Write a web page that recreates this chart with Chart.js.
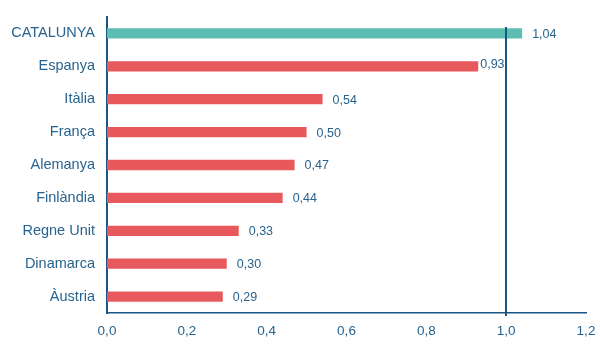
<!DOCTYPE html>
<html>
<head>
<meta charset="utf-8">
<script src="https://cdn.jsdelivr.net/npm/chart.js@4"></script>
<style>
  html, body { margin: 0; padding: 0; background: #fff; }
  #wrap { width: 600px; height: 349px; }
</style>
</head>
<body>
<div id="wrap"><canvas id="barChart" width="600" height="349"></canvas></div>
<script>
const countries = ["CATALUNYA", "Espanya", "Itàlia", "França", "Alemanya", "Finlàndia", "Regne Unit", "Dinamarca", "Àustria"];
const values = [1.04, 0.93, 0.54, 0.50, 0.47, 0.44, 0.33, 0.30, 0.29];
const xTicks = [0, 0.2, 0.4, 0.6, 0.8, 1.0, 1.2];
const referenceValue = 1.0;

const textColor = "#28638F";
const axisColor = "#1B5583";
const fontFamily = "'Liberation Sans', Arial, sans-serif";

// vertical marker at the reference value
const refLine = {
  id: "refLine",
  afterDatasetsDraw(chart) {
    const { ctx, chartArea, scales } = chart;
    const x = Math.round(scales.x.getPixelForValue(referenceValue));
    ctx.save();
    ctx.strokeStyle = axisColor;
    ctx.lineWidth = 2;
    ctx.beginPath();
    ctx.moveTo(x, chartArea.top + 10);
    ctx.lineTo(x, chartArea.bottom + 3);
    ctx.stroke();
    ctx.restore();
  }
};

// value labels to the right of each bar
const valueLabels = {
  id: "valueLabels",
  afterDatasetsDraw(chart) {
    const { ctx, scales } = chart;
    const meta = chart.getDatasetMeta(0);
    const refX = scales.x.getPixelForValue(referenceValue);
    ctx.save();
    ctx.font = "12.5px " + fontFamily;
    ctx.fillStyle = textColor;
    ctx.textBaseline = "middle";
    meta.data.forEach((bar, i) => {
      const txt = values[i].toFixed(2).replace(".", ",");
      const w = ctx.measureText(txt).width;
      let x = bar.x + 10;
      let y = bar.y + 1;
      // keep clear of the reference line
      if (x < refX && x + w > refX - 2) { x = bar.x + 2; y = bar.y - 2; }
      ctx.fillText(txt, x, y);
    });
    ctx.restore();
  }
};

new Chart(document.getElementById("barChart"), {
  type: "bar",
  data: {
    labels: countries,
    datasets: [{
      data: values,
      backgroundColor: countries.map((c, i) => i === 0 ? "#5CBEB2" : "#E8595E"),
      borderWidth: 0,
      barPercentage: 0.6,
      categoryPercentage: 0.52
    }]
  },
  options: {
    indexAxis: "y",
    responsive: false,
    animation: false,
    layout: { padding: { top: 17, right: 14, left: 0, bottom: 0 } },
    plugins: {
      legend: { display: false },
      tooltip: { enabled: false }
    },
    scales: {
      x: {
        min: 0,
        max: 1.2,
        afterBuildTicks(scale) { scale.ticks = xTicks.map(v => ({ value: v })); },
        afterFit(scale) {
          scale.height = 36;
          scale.paddingLeft = 0;
          scale.paddingRight = 0;
        },
        grid: { display: false, drawTicks: false },
        border: { display: true, color: axisColor, width: 1.5 },
        ticks: {
          padding: 10,
          color: textColor,
          font: { family: fontFamily, size: 13.5 },
          callback: v => v.toFixed(1).replace(".", ",")
        }
      },
      y: {
        afterFit(scale) {
          scale.width = 107;
          scale.paddingTop = 0;
          scale.paddingBottom = 0;
        },
        grid: { display: false, drawTicks: false },
        border: { display: true, color: axisColor, width: 2 },
        ticks: {
          padding: 12,
          color: textColor,
          font: { family: fontFamily, size: 14.5 }
        }
      }
    }
  },
  plugins: [refLine, valueLabels]
});
</script>
</body>
</html>
